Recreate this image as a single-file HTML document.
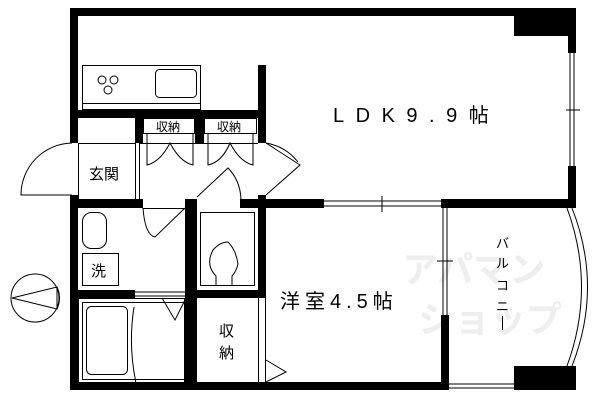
<!DOCTYPE html>
<html><head><meta charset="utf-8"><style>
html,body{margin:0;padding:0;background:#fff;width:600px;height:400px;overflow:hidden}
svg{display:block}
text{font-family:"Liberation Sans","Noto Sans CJK JP",sans-serif;fill:#000}
</style></head><body>
<svg width="600" height="400" viewBox="0 0 600 400" xmlns="http://www.w3.org/2000/svg">
<text x="402" y="282" font-size="36" font-weight="bold" style="fill:#eeeeee">アパマン</text>
<text x="418" y="332" font-size="36" font-weight="bold" style="fill:#eeeeee">ショップ</text>
<g fill="#000">
<rect x="70" y="8" width="506" height="8"/>
<rect x="70" y="8" width="8" height="135"/>
<rect x="70" y="195" width="8" height="195"/>
<rect x="70" y="382" width="379" height="8"/>
<rect x="568" y="8" width="8" height="45"/>
<rect x="568" y="166" width="8" height="41"/>
<rect x="514" y="16" width="62" height="20"/>
<rect x="514" y="366" width="62" height="24"/>
<rect x="70" y="110" width="195" height="8"/>
<rect x="258" y="65" width="8" height="78"/>
<rect x="258" y="195" width="8" height="103"/>
<rect x="135" y="110" width="8" height="33"/>
<rect x="195" y="110" width="9" height="33"/>
<rect x="70" y="199" width="73" height="9"/>
<rect x="185" y="199" width="12" height="9"/>
<rect x="240" y="199" width="84" height="9"/>
<rect x="441" y="199" width="135" height="9"/>
<rect x="185" y="199" width="12" height="191"/>
<rect x="70" y="290" width="65" height="8"/>
<rect x="185" y="290" width="80" height="8"/>
<rect x="441" y="315" width="8" height="75"/>
</g>
<g fill="none" stroke="#000" stroke-width="1">
<line x1="570" y1="53" x2="570" y2="166"/><line x1="574" y1="53" x2="574" y2="166"/>
<line x1="566" y1="110" x2="580" y2="110"/>
<line x1="324" y1="201" x2="441" y2="201"/><line x1="324" y1="206" x2="441" y2="206"/>
<line x1="382" y1="196" x2="382" y2="212"/>
<line x1="443" y1="208" x2="443" y2="315"/><line x1="447" y1="208" x2="447" y2="315"/>
<line x1="437" y1="261" x2="453" y2="261"/>
<line x1="449" y1="384" x2="514" y2="384"/><line x1="449" y1="388" x2="514" y2="388"/>
<path d="M567 208 Q596 287 567 366"/><path d="M572 208 Q603 287 572 366"/>
<rect x="82.5" y="65.5" width="118" height="44"/>
<line x1="82" y1="103.5" x2="200" y2="103.5"/>
<rect x="155.5" y="69.5" width="41" height="28" rx="4"/>
<circle cx="102" cy="80" r="4"/><circle cx="114" cy="80" r="4"/><circle cx="108" cy="90" r="4"/>
<rect x="78.5" y="143.5" width="57" height="56"/>
<line x1="135.5" y1="143" x2="135.5" y2="199"/><line x1="139.5" y1="143" x2="139.5" y2="199"/>
<line x1="139" y1="143.5" x2="258" y2="143.5"/>
<path d="M72 143 A52 52 0 0 0 21 195 L72 195"/>
<path d="M266 143 L300 165 L266 195"/>
<path d="M266 143 A52 52 0 0 1 298 162"/>
<rect x="143.5" y="118.5" width="51" height="15"/>
<rect x="204.5" y="118.5" width="52" height="15"/>
<path d="M147 133 V165 Q160 162 170 143 Q180 162 193 165 V133"/>
<path d="M208 133 V165 Q222 162 230 143 Q240 162 253 165 V133"/>
<path d="M197 197 L228 168 Q240 180 241 199"/>
<rect x="82.5" y="212.5" width="24" height="36" rx="9"/>
<rect x="82.5" y="253.5" width="36" height="32"/>
<path d="M143 208 Q145 235 155 237 L185 208"/>
<line x1="143" y1="208.5" x2="185" y2="208.5"/>
<rect x="200.5" y="212.5" width="54" height="73"/>
<path d="M216 285 V276 Q205 265 213 250 Q220 242 228 242 Q236 250 238 264 Q236 272 232 276 V285"/>
<rect x="78.5" y="298.5" width="106" height="85"/>
<rect x="82.5" y="302.5" width="102" height="77"/>
<rect x="86.5" y="306.5" width="41" height="68" rx="5"/>
<path d="M134 307 Q128 345 136 383"/>
<line x1="135" y1="292" x2="185" y2="292"/><line x1="135" y1="296" x2="185" y2="296"/>
<path d="M162 298 L175 320 L185 300"/>
<line x1="258.5" y1="298" x2="258.5" y2="382"/><line x1="265.5" y1="298" x2="265.5" y2="382"/>
<path d="M266 360 L286 372 L266 382"/>
<circle cx="35" cy="298" r="24"/>
<path d="M12 298 L57 287 L57 309 Z"/>
<path d="M57 287 Q62 298 57 309"/>
<line x1="502.5" y1="316" x2="502.5" y2="330"/>
</g>
<text x="333" y="122" font-size="20" letter-spacing="11.5">LDK9.9帖</text>
<text x="280" y="308" font-size="20" letter-spacing="5">洋室4.5帖</text>
<text x="89" y="179" font-size="15">玄関</text>
<text x="156" y="131" font-size="12">収納</text>
<text x="217" y="131" font-size="12">収納</text>
<text x="91" y="276" font-size="15">洗</text>
<text x="219" y="336" font-size="15">収</text>
<text x="219" y="358" font-size="15">納</text>
<g font-size="13">
<text x="496" y="248">バ</text>
<text x="496" y="268">ル</text>
<text x="496" y="290">コ</text>
<text x="496" y="311">ニ</text>
</g>
</svg>
</body></html>
